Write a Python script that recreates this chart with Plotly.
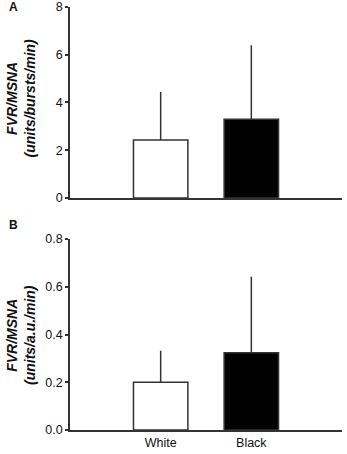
import plotly.graph_objects as go

groups = ["White", "Black"]
bar_colors = ["#ffffff", "#000000"]

# Panel A: FVR/MSNA (units/bursts/min)
a_mean = [2.43, 3.30]
a_sd = [2.01, 3.10]

# Panel B: FVR/MSNA (units/a.u./min)
b_mean = [0.200, 0.324]
b_sd = [0.132, 0.318]

a_ticks = [0, 2, 4, 6, 8]
b_ticks = [0.0, 0.2, 0.4, 0.6, 0.8]

line_col = "#333333"
font = "Liberation Sans, Arial, sans-serif"

fig = go.Figure()

def add_panel(means, sds, xa, ya):
    fig.add_trace(go.Bar(
        x=groups, y=means, width=0.6,
        marker=dict(color=bar_colors, line=dict(color=line_col, width=1.5)),
        error_y=dict(type="data", symmetric=False, array=sds,
                     arrayminus=[0] * len(sds), width=0,
                     color=line_col, thickness=1.5),
        xaxis=xa, yaxis=ya, showlegend=False,
    ))

add_panel(a_mean, a_sd, "x", "y")
add_panel(b_mean, b_sd, "x2", "y2")

common_x = dict(range=[-1, 2], showline=True, linecolor=line_col, linewidth=1.5,
                ticks="", showgrid=False, zeroline=False, fixedrange=True,
                tickfont=dict(family=font, size=12.5, color="#111"))
common_y = dict(showline=True, linecolor=line_col, linewidth=1.5, ticks="outside",
                ticklen=3, tickwidth=1.5, tickcolor=line_col, showgrid=False,
                zeroline=False, automargin=False,
                tickfont=dict(family=font, size=12.5, color="#111"))

fig.update_layout(
    width=347, height=454,
    margin=dict(l=70, r=5, t=7, b=24, autoexpand=False),
    paper_bgcolor="white", plot_bgcolor="white",
    bargap=0.4,
    xaxis=dict(domain=[0, 1], anchor="y", showticklabels=False, automargin=False, **common_x),
    yaxis=dict(domain=[0.5485, 1], anchor="x", range=[0, 8], tickvals=a_ticks,
               ticktext=[str(t) for t in a_ticks], **common_y),
    xaxis2=dict(domain=[0, 1], anchor="y2", showticklabels=True, automargin=False, **common_x),
    yaxis2=dict(domain=[0, 0.4515], anchor="x2", range=[0, 0.8], tickvals=b_ticks,
                ticktext=[f"{t:.1f}" for t in b_ticks], **common_y),
)

title_font = dict(family=font, size=14, color="#111")
fig.add_annotation(text="<b><i>FVR/MSNA<br>(units/bursts/min)</i></b>", textangle=-90,
                   xref="paper", yref="paper", x=-0.182, y=0.785, showarrow=False,
                   font=title_font, xanchor="center", yanchor="middle")
fig.add_annotation(text="<b><i>FVR/MSNA<br>(units/a.u./min)</i></b>", textangle=-90,
                   xref="paper", yref="paper", x=-0.182, y=0.2257, showarrow=False,
                   font=title_font, xanchor="center", yanchor="middle")
fig.add_annotation(text="<b>A</b>", xref="paper", yref="paper", x=-0.232, y=1.0,
                   showarrow=False, font=dict(family=font, size=12, color="#111"),
                   xanchor="left", yanchor="middle")
fig.add_annotation(text="<b>B</b>", xref="paper", yref="paper", x=-0.232, y=0.4835,
                   showarrow=False, font=dict(family=font, size=12, color="#111"),
                   xanchor="left", yanchor="middle")

fig.write_html("out.html", config={"displayModeBar": False},
               post_script="document.body.style.margin='0';")
